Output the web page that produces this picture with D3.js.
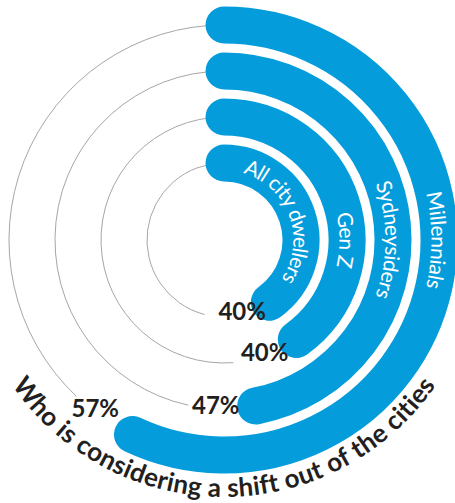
<!DOCTYPE html>
<html>
<head>
<meta charset="utf-8">
<script src="https://cdn.jsdelivr.net/npm/d3@7"></script>
<style>
  html, body { margin: 0; padding: 0; background: #fff; }
  svg { display: block; font-family: Lato, "Open Sans", sans-serif; }
</style>
</head>
<body>
<svg id="chart" width="455" height="503"></svg>
<script>
// groups from the inside ring to the outside ring
var groups = ["All city dwellers", "Gen Z", "Sydneysiders", "Millennials"];
var shares = [40, 40, 47, 57];
var shareLabels = ["40%", "40%", "47%", "57%"];
var title = "Who is considering a shift out of the cities";

var svg = d3.select("#chart");
var cx = 224, cy = 240;
var band = 37;
var blue = "#059cdb";

var g = svg.append("g").attr("transform", "translate(" + cx + "," + cy + ")");

var radius = d3.scalePoint().domain(groups).range([77, 215]);
var angle = d3.scaleLinear().domain([0, 100]).range([0, 2 * Math.PI]);

// angles measured clockwise from 12 o'clock
function arcPath(r, a0, a1, anti){
	var p = d3.path();
	p.arc(0, 0, r, a0 - Math.PI / 2, a1 - Math.PI / 2, anti);
	return p.toString();
}

var rows = groups.map(function(name, i){
	return {name: name, value: shares[i], label: shareLabels[i], r: radius(name), end: angle(shares[i]), id: "ring" + i};
});

// thin grey tracks, they start a little after the end of each bar
g.append("g").selectAll("path")
	.data(rows)
	.enter().append("path")
		.attr("d", function(d){ return arcPath(d.r, d.end + 68 / d.r, 2 * Math.PI); })
		.attr("fill", "none")
		.attr("stroke", "#a6a6a6")
		.attr("stroke-width", 1);

g.append("g").selectAll("path")
	.data(rows)
	.enter().append("path")
		.attr("id", function(d){ return d.id; })
		.attr("d", function(d){ return arcPath(d.r, 0, d.end); })
		.attr("fill", "none")
		.attr("stroke", blue)
		.attr("stroke-width", band)
		.attr("stroke-linecap", "round");

// group names along the bars
var names = g.append("g").selectAll("text")
	.data(rows)
	.enter().append("text")
		.attr("dy", "0.36em")
		.attr("fill", "#fff")
		.attr("font-size", 21)
		.attr("text-anchor", "middle");
names.append("textPath")
	.attr("href", function(d){ return "#" + d.id; })
	.text(function(d){ return d.name; });
names.each(function(d){
	var len = this.getComputedTextLength();
	var mid = Math.min(Math.PI / 2, d.end - len / 2 / d.r - 20 * Math.PI / 180);
	d3.select(this).select("textPath").attr("startOffset", mid * d.r);
});

// value labels just past the end of each bar
g.append("g").selectAll("text")
	.data(rows)
	.enter().append("text")
		.attr("x", function(d){ var a = d.end + (20 + 0.12 * d.r) / d.r; return (d.r - 3) * Math.sin(a); })
		.attr("y", function(d){ var a = d.end + (20 + 0.12 * d.r) / d.r; return -(d.r - 3) * Math.cos(a); })
		.attr("dy", "0.35em")
		.attr("text-anchor", "middle")
		.attr("font-size", 24)
		.attr("font-weight", 700)
		.attr("fill", "#231f20")
		.text(function(d){ return d.label; });

// curved title under the rings
g.append("path")
	.attr("id", "titlePath")
	.attr("d", arcPath(257, Math.PI + 1.4, Math.PI - 1.4, true))
	.attr("fill", "none");
g.append("text")
	.attr("font-size", 26)
	.attr("font-weight", 700)
	.attr("letter-spacing", 0.3)
	.attr("fill", "#231f20")
	.attr("text-anchor", "middle")
	.append("textPath")
		.attr("href", "#titlePath")
		.attr("startOffset", "50%")
		.text(title);
</script>
</body>
</html>
